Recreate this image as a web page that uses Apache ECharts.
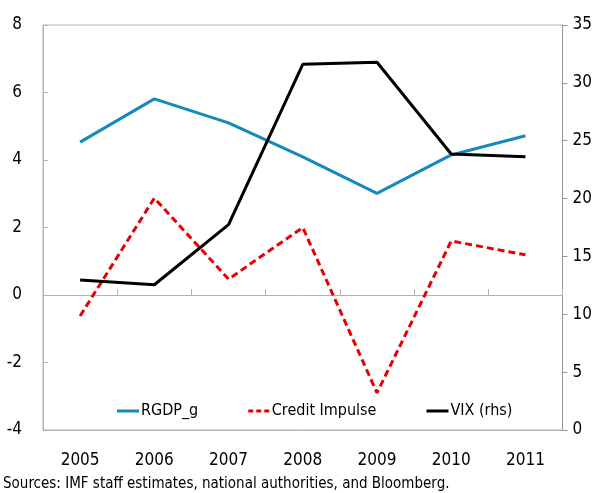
<!DOCTYPE html>
<html>
<head>
<meta charset="utf-8">
<script src="https://cdn.jsdelivr.net/npm/echarts@6/dist/echarts.min.js"></script>
<style>
  html, body { margin: 0; padding: 0; background: #fff; }
  #chart { width: 595px; height: 493px; }
</style>
</head>
<body>
<div id="chart"></div>
<script>
// Years on the category axis
const years = ['2005', '2006', '2007', '2008', '2009', '2010', '2011'];
// Real GDP growth, percent (left axis)
const rgdpG = [4.53, 5.81, 5.10, 4.09, 3.01, 4.15, 4.72];
// Credit impulse, percent of GDP (left axis)
const creditImpulse = [-0.62, 2.87, 0.47, 2.00, -2.90, 1.60, 1.19];
// VIX index (right axis)
const vix = [12.96, 12.55, 17.75, 31.60, 31.78, 23.85, 23.62];

const FONT = "'DejaVu Sans Condensed', 'Liberation Sans Narrow', 'Open Sans', sans-serif";
const GRAY = '#b3b3b3';
const SOLID_ICON = 'path://M0,0H22V3H0Z';
const DASH_ICON = 'path://M0,0H5V3H0Z M8,0H13V3H8Z M16,0H21V3H16Z';

const chart = echarts.init(document.getElementById('chart'), null, { renderer: 'canvas' });
chart.setOption({
  animation: false,
  textStyle: { fontFamily: FONT },
  grid: {
    left: 43, right: 32, top: 25, bottom: 63,
    show: true, borderColor: GRAY, borderWidth: 1, backgroundColor: 'transparent'
  },
  legend: {
    left: 112, top: 398,
    itemWidth: 22, itemHeight: 3, itemGap: 50,
    textStyle: { fontFamily: FONT, fontSize: 16, color: '#000', padding: [0, 0, 0, -3] },
    data: [
      { name: 'RGDP_g', icon: SOLID_ICON },
      { name: 'Credit Impulse', icon: DASH_ICON },
      { name: 'VIX (rhs)', icon: SOLID_ICON }
    ]
  },
  graphic: [{
    type: 'text', left: 3, top: 477,
    style: { text: 'Sources: IMF staff estimates, national authorities, and Bloomberg.',
             font: '15px ' + FONT, fill: '#000' }
  }],
  xAxis: [{
    type: 'category', data: years, boundaryGap: true,
    axisLine: { onZero: true, onZeroAxisIndex: 0, lineStyle: { color: GRAY, width: 1 } },
    axisTick: { show: true, inside: true, length: 6, lineStyle: { color: GRAY } },
    axisLabel: { show: false }
  }, {
    type: 'category', data: years, boundaryGap: true, position: 'bottom',
    axisLine: { show: true, onZero: false, lineStyle: { color: GRAY, width: 1 } },
    axisTick: { show: false },
    axisLabel: { show: true, margin: 22, fontSize: 17, color: '#000', fontFamily: FONT }
  }],
  yAxis: [{
    type: 'value', min: -4, max: 8, interval: 2, position: 'left',
    axisLine: { show: true, lineStyle: { color: GRAY } },
    axisTick: { show: true, inside: true, length: 5, lineStyle: { color: GRAY } },
    splitLine: { show: false },
    axisLabel: { fontSize: 17, color: '#000', margin: 21, fontFamily: FONT }
  }, {
    type: 'value', min: 0, max: 35, interval: 5, position: 'right',
    axisLine: { show: true, lineStyle: { color: '#999' } },
    axisTick: { show: true, inside: false, length: 5, lineStyle: { color: '#999' } },
    splitLine: { show: false },
    axisLabel: { fontSize: 17, color: '#000', margin: 10, fontFamily: FONT }
  }],
  series: [{
    name: 'RGDP_g', type: 'line', data: rgdpG, xAxisIndex: 0, yAxisIndex: 0,
    symbol: 'none', lineStyle: { color: '#1689bb', width: 3 }, itemStyle: { color: '#1689bb' }
  }, {
    name: 'Credit Impulse', type: 'line', data: creditImpulse, xAxisIndex: 0, yAxisIndex: 0,
    symbol: 'none', lineStyle: { color: '#e60000', width: 3, type: [7, 4] }, itemStyle: { color: '#e60000' }
  }, {
    name: 'VIX (rhs)', type: 'line', data: vix, xAxisIndex: 0, yAxisIndex: 1,
    symbol: 'none', lineStyle: { color: '#000', width: 3 }, itemStyle: { color: '#000' }
  }]
});
</script>
</body>
</html>
